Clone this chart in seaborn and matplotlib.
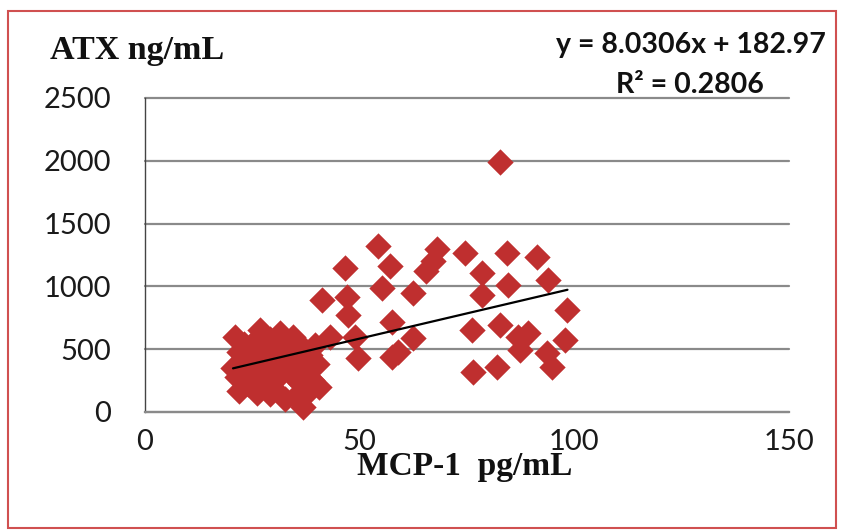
import numpy as np
import pandas as pd
import matplotlib
matplotlib.use('Agg')
import matplotlib.pyplot as plt
import seaborn as sns
from matplotlib.patches import Rectangle

# MCP-1 (pg/mL) values of each sample
mcp = [20.5, 21.0, 21.5, 22.0, 22.0, 23.0, 23.5, 24.0, 24.5, 25.0,
       25.5, 26.0, 26.5, 26.8, 27.5, 28.0, 28.5, 29.0, 29.0, 29.5,
       30.0, 30.5, 31.0, 31.5, 32.0, 32.5, 33.0, 33.5, 34.0, 34.5,
       35.0, 35.5, 36.0, 36.5, 36.8, 37.5, 38.0, 38.5, 39.0, 39.5,
       40.0, 40.5, 41.3, 43.0, 46.6, 47.1, 47.3, 49.0, 49.5, 54.3,
       55.2, 57.1, 57.6, 57.5, 59.0, 62.5, 62.5, 65.5, 67.0, 68.0,
       74.6, 76.2, 76.5, 78.6, 78.6, 82.1, 82.7, 82.8, 84.4, 84.6,
       86.9, 87.4, 89.3, 91.4, 93.7, 93.9, 94.9, 97.9, 98.4]
# ATX (ng/mL) values of each sample
atx = [350, 600, 280, 170, 480, 540, 380, 220, 450, 300,
       560, 150, 400, 650, 250, 480, 330, 580, 140, 200,
       420, 520, 280, 630, 360, 100, 470, 560, 300, 600,
       120, 400, 230, 520, 40, 330, 160, 450, 255, 530,
       380, 200, 891, 600, 1146, 915, 772, 600, 430, 1320,
       990, 1160, 716, 440, 480, 950, 589, 1120, 1200, 1300,
       1265, 653, 318, 1106, 931, 358, 1990, 692, 1265, 1011,
       597, 494, 629, 1234, 470, 1051, 358, 573, 812]

slope = 8.0306
intercept = 182.97
r_squared = 0.2806
x_ticks = [0, 50, 100, 150]
y_ticks = [0, 500, 1000, 1500, 2000, 2500]

sns.set_style('white')
plt.rcParams['font.family'] = ['Lato', 'DejaVu Sans']

W, H = 843, 532
fig = plt.figure(figsize=(W / 100, H / 100), dpi=100)
ax = fig.add_axes([145 / W, 120 / H, 644 / W, 314 / H])

df = pd.DataFrame({'MCP-1': mcp, 'ATX': atx})
sns.scatterplot(data=df, x='MCP-1', y='ATX', marker='D', s=180,
                color='#BF2F2F', linewidth=0, ax=ax, zorder=3, clip_on=False)

xr = np.array([min(mcp), max(mcp)])
trend = pd.DataFrame({'x': xr, 'y': slope * xr + intercept})
sns.lineplot(data=trend, x='x', y='y', color='black', lw=1.6, ax=ax, zorder=4)

ax.set_xlim(0, 150)
ax.set_ylim(0, 2500)
ax.set_xticks(x_ticks)
ax.set_yticks(y_ticks)
ax.set_xlabel('')
ax.set_ylabel('')
ax.grid(axis='y', color='#8a8a8a', lw=1.6)
ax.grid(axis='x', visible=False)
ax.set_axisbelow(True)
for gl in ax.get_ygridlines():
    gl.set_clip_on(False)
for s in ['top', 'right']:
    ax.spines[s].set_visible(False)
ax.spines['left'].set_color('#444444')
ax.spines['left'].set_linewidth(1.0)
ax.spines['bottom'].set_color('#8a8a8a')
ax.spines['bottom'].set_linewidth(1.6)
ax.tick_params(axis='y', direction='out', length=8.6, width=1.6, color='#8a8a8a',
               pad=16, labelsize=21, labelcolor='#1a1a1a')
ax.tick_params(axis='x', direction='out', length=7, width=1.0, color='#444444',
               pad=5, labelsize=21, labelcolor='#1a1a1a')

serif = ['Liberation Serif', 'DejaVu Serif']
fig.text(50 / W, 1 - 50 / H, 'ATX ng/mL', family=serif, weight='bold',
         fontsize=24.5, ha='left', va='center', color='#111111')
fig.text(465 / W, 1 - 467 / H, 'MCP-1  pg/mL', family=serif, weight='bold',
         fontsize=24, ha='center', va='center', color='#111111')

eqfont = ['Lato', 'DejaVu Sans']
fig.text(691 / W, 1 - 45 / H, f'y = {slope}x + {intercept}', family=eqfont,
         weight='bold', fontsize=20.5, ha='center', va='center', color='#111111')
fig.text(690 / W, 1 - 85 / H, f'R² = {r_squared}', family=eqfont,
         weight='bold', fontsize=20.5, ha='center', va='center', color='#111111')

fig.patches.append(Rectangle((8 / W, 4 / H), 828 / W, 517 / H, transform=fig.transFigure,
                             fill=False, edgecolor='#D05050', lw=1.5))

fig.savefig('out.png', dpi=100, facecolor='white')
